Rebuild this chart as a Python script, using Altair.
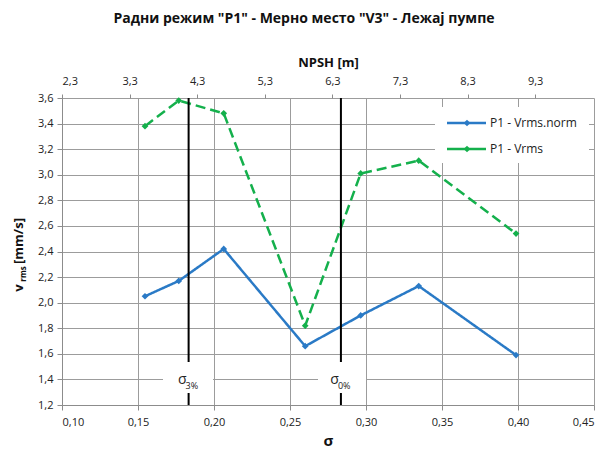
import altair as alt
import pandas as pd

# ---- data ----
sigma = [0.1546, 0.1768, 0.2064, 0.260, 0.2965, 0.3347, 0.3987]
vrms_norm = [2.05, 2.17, 2.42, 1.66, 1.90, 2.13, 1.59]
vrms = [3.38, 3.58, 3.48, 1.82, 3.01, 3.11, 2.54]
series_names = ["P1 - Vrms.norm", "P1 - Vrms"]
series_colors = ["#2A7AC6", "#14B04C"]

x_ticks = [0.10, 0.15, 0.20, 0.25, 0.30, 0.35, 0.40, 0.45]
y_ticks = [1.2, 1.4, 1.6, 1.8, 2.0, 2.2, 2.4, 2.6, 2.8, 3.0, 3.2, 3.4, 3.6]
npsh_ticks = [2.3, 3.3, 4.3, 5.3, 6.3, 7.3, 8.3, 9.3]
npsh_domain = [2.3, 10.17]

sigma_marks = [0.1833, 0.2835]
sigma_mark_subs = ["3%", "0%"]

title_text = 'Радни режим "P1" - Мерно место "V3" - Лежај пумпе'
x_title = "σ"
top_title = "NPSH [m]"
y_title_parts = ["v", "rms", "[mm/s]"]

FONT = "Open Sans"
W, H = 532, 307
L, T = 62, 98  # plot origin in page pixels

rows = []
for s, a, b in zip(sigma, vrms_norm, vrms):
    rows.append({"sigma": s, "v": a, "series": series_names[0]})
    rows.append({"sigma": s, "v": b, "series": series_names[1]})
df = pd.DataFrame(rows)

xscale = alt.Scale(domain=[0.10, 0.45], nice=False, zero=False)
yscale = alt.Scale(domain=[1.2, 3.6], nice=False, zero=False)
cscale = alt.Scale(domain=series_names, range=series_colors)
dscale = alt.Scale(domain=series_names, range=[[1, 0], [10, 5]])

comma1 = "replace(format(datum.value, '.1f'), '.', ',')"
comma2 = "replace(format(datum.value, '.2f'), '.', ',')"

xaxis = alt.Axis(values=x_ticks, labelExpr=comma2, title=x_title,
                 titleFontSize=15, titleFontWeight="bold", titlePadding=6,
                 labelPadding=6, labelOverlap=False)
yaxis = alt.Axis(values=y_ticks, labelExpr=comma1, title=None,
                 labelPadding=4, labelOverlap=False)

base = alt.Chart(df)

lines = base.mark_line(strokeWidth=2.5).encode(
    x=alt.X("sigma:Q", scale=xscale, axis=xaxis),
    y=alt.Y("v:Q", scale=yscale, axis=yaxis),
    color=alt.Color("series:N", scale=cscale, legend=None),
    strokeDash=alt.StrokeDash("series:N", scale=dscale, legend=None),
)
points = base.mark_point(shape="diamond", filled=True, size=45, opacity=1).encode(
    x=alt.X("sigma:Q", scale=xscale, axis=xaxis),
    y=alt.Y("v:Q", scale=yscale, axis=yaxis),
    color=alt.Color("series:N", scale=cscale, legend=None),
)

# vertical sigma markers
mk = pd.DataFrame({"sigma": sigma_marks, "sub": sigma_mark_subs})
vlines = alt.Chart(mk).mark_rule(color="black", strokeWidth=2).encode(
    x=alt.X("sigma:Q", scale=xscale, axis=xaxis), y=alt.value(0), y2=alt.value(H))

box_x = [(163, 213), (318, 366)]
extra = []
for i in range(len(sigma_marks)):
    one = alt.Chart(mk.iloc[[i]])
    extra.append(one.mark_rect(color="white").encode(
        x=alt.value(box_x[i][0] - L), x2=alt.value(box_x[i][1] - L),
        y=alt.value(362 - T), y2=alt.value(393 - T)))
    extra.append(one.mark_text(font=FONT, fontSize=14, color="#222",
                               align="right", baseline="alphabetic", dx=-2).encode(
        x=alt.X("sigma:Q", scale=xscale, axis=xaxis), y=alt.value(384 - T), text=alt.value("σ")))
    extra.append(one.mark_text(font=FONT, fontSize=9, color="#222",
                               align="left", baseline="alphabetic", dx=-3).encode(
        x=alt.X("sigma:Q", scale=xscale, axis=xaxis), y=alt.value(389 - T), text="sub:N"))

one_row = pd.DataFrame({"a": [0]})
# legend
extra.append(alt.Chart(one_row).mark_rect(color="white").encode(
    x=alt.value(435 - L), x2=alt.value(589 - L), y=alt.value(107 - T), y2=alt.value(163 - T)))
leg_y = [123, 149]
for name, col, yy in zip(series_names, series_colors, leg_y):
    c = alt.Chart(one_row)
    extra.append(c.mark_rule(strokeWidth=2.5, color=col).encode(
        x=alt.value(447 - L), x2=alt.value(486 - L), y=alt.value(yy - T)))
    extra.append(c.mark_point(shape="diamond", filled=True, size=45, opacity=1, color=col).encode(
        x=alt.value(467 - L), y=alt.value(yy - T)))
    extra.append(c.mark_text(font=FONT, fontSize=12, color="#222", align="left",
                             baseline="middle").encode(
        x=alt.value(490 - L), y=alt.value(yy - T), text=alt.value(name)))

# title
extra.append(alt.Chart(one_row).mark_text(
    font=FONT, fontSize=14, fontWeight="bold", color="#111", align="center", baseline="middle").encode(
    x=alt.value(304 - L), y=alt.value(19 - T), text=alt.value(title_text)))
# y title (rotated, with subscript)
yt_pos = [(19, 288, 13), (24, 274, 8), (19, 241, 13)]
for txt, (xx, yy, fs) in zip(y_title_parts, yt_pos):
    extra.append(alt.Chart(one_row).mark_text(
        font=FONT, fontWeight="bold", angle=270, color="#111", fontSize=fs,
        align="center", baseline="middle").encode(
        x=alt.value(xx - L), y=alt.value(yy - T), text=alt.value(txt)))

main = alt.layer(lines, points, vlines, *extra)

# top NPSH axis
top = alt.Chart(pd.DataFrame({"npsh": npsh_ticks})).mark_point(opacity=0).encode(
    x=alt.X("npsh:Q", scale=alt.Scale(domain=npsh_domain, nice=False, zero=False),
            axis=alt.Axis(orient="top", values=npsh_ticks, labelExpr=comma1, grid=False,
                          title=top_title, titleFontSize=13, titleFontWeight="bold",
                          titlePadding=6, labelPadding=8, domain=False, tickSize=4,
                          labelOverlap=False)))

chart = alt.layer(main, top).resolve_scale(x="independent").properties(
    width=W, height=H,
    padding={"left": L, "top": T, "right": 14, "bottom": 47},
    autosize=alt.AutoSizeParams(type="none"),
).configure_view(stroke=None).configure_axis(
    labelFont=FONT, titleFont=FONT, labelFontSize=11, labelColor="#222", titleColor="#111",
    gridColor="#9c9c9c", gridWidth=1, domainColor="#8c8c8c", tickColor="#8c8c8c", tickSize=5,
)

chart.save("out.html", embed_options={"renderer": "svg", "actions": False})
